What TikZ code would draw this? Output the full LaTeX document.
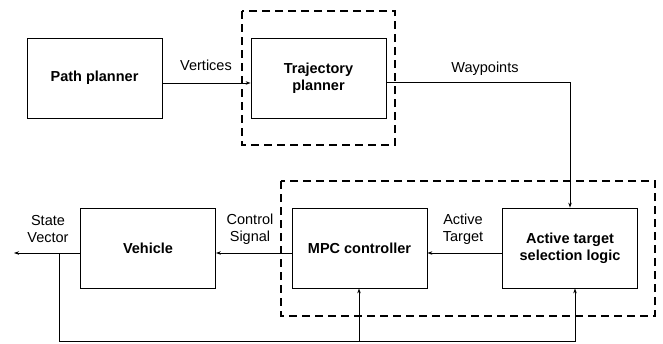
\documentclass[tikz,border=0pt]{standalone}
\usepackage{fontspec}
\setmainfont{Liberation Sans}
\usetikzlibrary{arrows.meta}
\begin{document}
\begin{tikzpicture}[x=1pt,y=-1pt,
  block/.style={draw,line width=0.8pt,minimum width=135pt,minimum height=80pt,inner sep=0pt,align=center,font=\fontsize{14.5}{17}\selectfont\bfseries},
  lbl/.style={align=center,inner sep=0pt,font=\fontsize{14.5}{17}\selectfont},
  group/.style={draw,line width=1.8pt,dash pattern=on 8pt off 5pt},
  link/.style={line width=0.8pt,-{Stealth[length=5pt,width=3.5pt]}},
  wire/.style={line width=0.8pt}]
\useasboundingbox (0,0) rectangle (663,343);

% dashed groupings
\draw[group] (242,11) rectangle (395,145);
\draw[group] (281,181) rectangle (655,316);

% blocks
\node[block] (pp) at (94.5,78) {Path planner};
\node[block] (tp) at (318.5,78) {Trajectory\\planner};
\node[block] (veh) at (148,248) {Vehicle};
\node[block] (mpc) at (359.5,248) {MPC controller};
\node[block] (ats) at (570,248) {Active target\\selection logic};

% signal flow (lines run slightly below the block centres)
\draw[link] ([yshift=-5pt]pp.east) -- ([yshift=-5pt]tp.west);
\node[lbl] (lv) at (206,65) {Vertices};

\coordinate (wc) at (570,82.5);
\draw[link] ([yshift=-4.5pt]tp.east) -- (wc) -- (ats.north);
\node[lbl] (lw) at (485,69) {Waypoints};

\draw[link] ([yshift=-5pt]ats.west) -- ([yshift=-5pt]mpc.east);
\node[lbl] (la) at (463,229) {Active\\Target};

\draw[link] ([yshift=-5pt]mpc.west) -- ([yshift=-5pt]veh.east);
\node[lbl] (lc) at (250,229) {Control\\Signal};

\coordinate (out) at (14,253);
\draw[link] ([yshift=-5pt]veh.west) -- (out);
\node[lbl] (ls) at (48,229) {State\\Vector};

% feedback of the state vector
\coordinate (fb0) at (59,253);
\coordinate (fb1) at (59,341.5);
\coordinate (fb2) at (575,341.5);
\coordinate (fbm) at (359,341.5);
\draw[wire] (fb0) -- (fb1) -- (fb2);
\draw[link] (fb2) -- (ats.south -| fb2);
\draw[link] (fbm) -- (mpc.south -| fbm);
\end{tikzpicture}
\end{document}
